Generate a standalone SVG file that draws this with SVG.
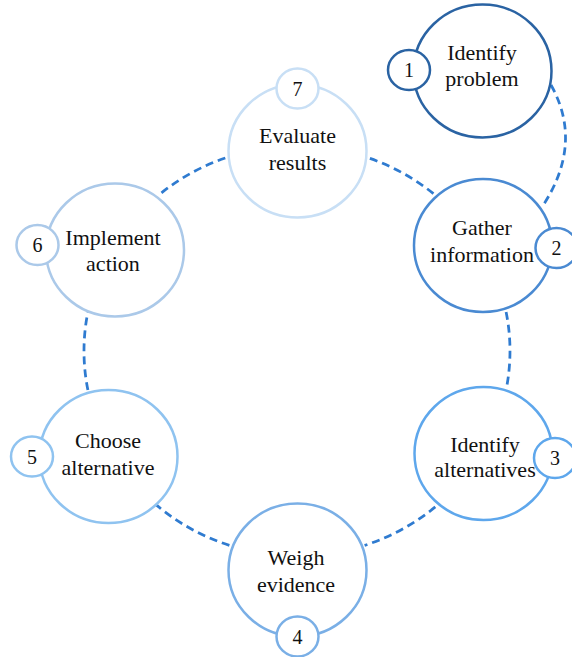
<svg xmlns="http://www.w3.org/2000/svg" width="572" height="657" viewBox="0 0 572 657" font-family="Liberation Serif">
  <style>
    .bg { fill: #ffffff; }
    .link { fill: none; stroke: #2f7bd0; stroke-width: 2.75; stroke-dasharray: 8 5; }
    .ring { fill: #ffffff; stroke-width: 2.5; }
    .badge { fill: #ffffff; stroke-width: 2.5; }
    .label { font-size: 22px; fill: #111111; text-anchor: middle; }
    .num { font-size: 20px; fill: #111111; text-anchor: middle; }
    #n1 .ring, #n1 .badge { stroke: #2a63a3; }
    #n2 .ring, #n2 .badge { stroke: #4a8ad2; }
    #n3 .ring, #n3 .badge { stroke: #5ea7ec; }
    #n4 .ring, #n4 .badge { stroke: #7aafe6; }
    #n5 .ring, #n5 .badge { stroke: #8fc3f0; }
    #n6 .ring, #n6 .badge { stroke: #abc9e9; }
    #n7 .ring, #n7 .badge { stroke: #c8dff5; }
  </style>

  <rect class="bg" x="0" y="0" width="572" height="657"/>

  <!-- dashed cycle links -->
  <g id="connectors">
    <path class="link" d="M 551 85 Q 584 144 542 207"/>
    <path class="link" d="M 506.1 311.9 A 213 205 0 0 1 506.4 388.4"/>
    <path class="link" d="M 435.3 506.9 A 213 205 0 0 1 364.6 545.4"/>
    <path class="link" d="M 229.4 545.4 A 213 205 0 0 1 153.6 502.6"/>
    <path class="link" d="M 87.9 390.1 A 213 205 0 0 1 87.9 311.9"/>
    <path class="link" d="M 161.5 192.8 A 213 205 0 0 1 227.6 157.2"/>
    <path class="link" d="M 369.9 158.4 A 213 205 0 0 1 433.9 194"/>
  </g>

  <g id="n1" font-family="Liberation Serif">
    <ellipse class="ring" cx="482.5" cy="71" rx="69" ry="66.5"/>
    <ellipse class="badge" cx="409" cy="70" rx="21" ry="20"/>
    <text class="num" x="409" y="77">1</text>
    <text class="label" x="482" y="60">Identify</text>
    <text class="label" x="482" y="86">problem</text>
  </g>

  <g id="n2" font-family="Liberation Serif">
    <ellipse class="ring" cx="483" cy="245.5" rx="69" ry="66.5"/>
    <ellipse class="badge" cx="556.5" cy="248" rx="21" ry="20"/>
    <text class="num" x="556.5" y="255">2</text>
    <text class="label" x="482" y="235">Gather</text>
    <text class="label" x="482" y="262">information</text>
  </g>

  <g id="n3" font-family="Liberation Serif">
    <ellipse class="ring" cx="483.5" cy="453.5" rx="69" ry="66.5"/>
    <ellipse class="badge" cx="555" cy="458" rx="21" ry="20"/>
    <text class="num" x="555" y="465">3</text>
    <text class="label" x="485" y="452">Identify</text>
    <text class="label" x="485" y="477">alternatives</text>
  </g>

  <g id="n4" font-family="Liberation Serif">
    <ellipse class="ring" cx="297.5" cy="570" rx="69" ry="66.5"/>
    <ellipse class="badge" cx="297.5" cy="636.5" rx="21" ry="20"/>
    <text class="num" x="297.5" y="643.5">4</text>
    <text class="label" x="296" y="565">Weigh</text>
    <text class="label" x="296" y="592">evidence</text>
  </g>

  <g id="n5" font-family="Liberation Serif">
    <ellipse class="ring" cx="108.5" cy="456.5" rx="69" ry="66.5"/>
    <ellipse class="badge" cx="32" cy="456.5" rx="21" ry="20"/>
    <text class="num" x="32" y="463.5">5</text>
    <text class="label" x="108" y="448">Choose</text>
    <text class="label" x="108" y="475">alternative</text>
  </g>

  <g id="n6" font-family="Liberation Serif">
    <ellipse class="ring" cx="115" cy="250" rx="69" ry="66.5"/>
    <ellipse class="badge" cx="37.5" cy="245" rx="21" ry="20"/>
    <text class="num" x="37.5" y="252">6</text>
    <text class="label" x="113" y="245">Implement</text>
    <text class="label" x="113" y="271">action</text>
  </g>

  <g id="n7" font-family="Liberation Serif">
    <ellipse class="ring" cx="297.5" cy="151" rx="69" ry="66.5"/>
    <ellipse class="badge" cx="297.5" cy="88.5" rx="21" ry="20"/>
    <text class="num" x="297.5" y="95.5">7</text>
    <text class="label" x="297.5" y="143">Evaluate</text>
    <text class="label" x="297.5" y="170">results</text>
  </g>
</svg>
